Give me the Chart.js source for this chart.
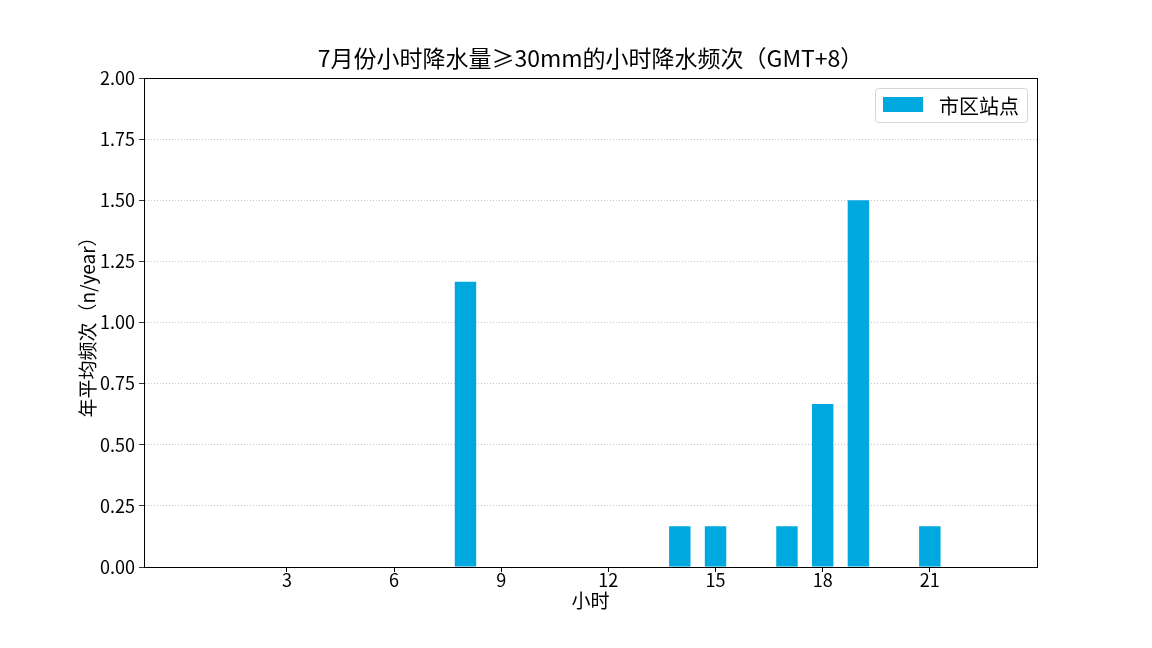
<!DOCTYPE html>
<html lang="zh-CN">
<head>
<meta charset="UTF-8">
<title>7月份小时降水频次</title>
<script src="https://cdn.jsdelivr.net/npm/chart.js"></script>
<style>
  html, body { margin: 0; padding: 0; background: #fff; }
  #wrap { width: 1152px; height: 648px; }
</style>
</head>
<body>
<div id="wrap"><canvas id="chart" width="1152" height="648"></canvas></div>
<script>
// 数据
const hours = [0,1,2,3,4,5,6,7,8,9,10,11,12,13,14,15,16,17,18,19,20,21,22,23];
const freq  = [0,0,0,0,0,0,0,0,1.1667,0,0,0,0,0,0.1667,0.1667,0,0.1667,0.6667,1.5,0,0.1667,0,0];
const xTicks = [3,6,9,12,15,18,21];
const seriesName = '市区站点';
const chartTitle = '7月份小时降水量≥30mm的小时降水频次（GMT+8）';
const barColor = '#00A8E0';
const FONT = "'Noto Sans CJK SC', 'DejaVu Sans', sans-serif";

// 标题、边框、图例（图例画在绘图区内右上角）
const framePlugin = {
  id: 'frame',
  afterDraw(chart) {
    const { ctx, chartArea: a } = chart;
    ctx.save();
    ctx.strokeStyle = '#000';
    ctx.lineWidth = 1;
    ctx.strokeRect(Math.round(a.left) + 0.5, Math.round(a.top) + 0.5,
                   Math.round(a.right - a.left), Math.round(a.bottom - a.top));

    // title, centred on the plot area
    ctx.fillStyle = '#000';
    ctx.font = '23px ' + FONT;
    ctx.textAlign = 'center';
    ctx.textBaseline = 'middle';
    ctx.fillText(chartTitle, (a.left + a.right) / 2, 58);

    // legend
    const w = 152, h = 34;
    const lx = a.right - 10 - w, ly = a.top + 10;
    ctx.beginPath();
    ctx.roundRect(lx + 0.5, ly + 0.5, w, h, 3);
    ctx.fillStyle = 'rgba(255,255,255,0.8)';
    ctx.fill();
    ctx.strokeStyle = '#d6d6d6';
    ctx.stroke();
    ctx.fillStyle = barColor;
    ctx.fillRect(lx + 8, ly + 9, 40, 15);
    ctx.fillStyle = '#000';
    ctx.font = '20px ' + FONT;
    ctx.textAlign = 'left';
    ctx.fillText(seriesName, lx + 64, ly + h / 2 + 1);
    ctx.restore();
  }
};

new Chart(document.getElementById('chart'), {
  type: 'bar',
  data: {
    datasets: [{
      label: seriesName,
      data: hours.map((h, i) => ({ x: h, y: freq[i] })),
      backgroundColor: barColor,
      borderWidth: 0,
      barPercentage: 0.6,
      categoryPercentage: 1.0
    }]
  },
  options: {
    responsive: false,
    animation: false,
    layout: { padding: { top: 78, right: 115, bottom: 0, left: 76 } },
    plugins: {
      legend: { display: false },
      tooltip: { enabled: false },
      title: { display: false }
    },
    scales: {
      x: {
        type: 'linear',
        offset: false,
        min: -1,
        max: 24,
        afterBuildTicks(scale) { scale.ticks = xTicks.map(v => ({ value: v })); },
        afterFit(scale) { scale.height = 81; },
        ticks: { color: '#000', font: { family: FONT, size: 18 }, padding: -3, maxRotation: 0 },
        grid: { offset: false, drawOnChartArea: false, tickLength: 5, tickColor: '#000' },
        border: { color: '#000', width: 1 },
        title: {
          display: true, text: '小时', color: '#000',
          font: { family: FONT, size: 19 },
          padding: { top: 0, bottom: 36 }
        }
      },
      y: {
        min: 0,
        max: 2,
        afterFit(scale) { scale.width = 68; },
        ticks: {
          stepSize: 0.25, color: '#000', padding: 4,
          font: { family: FONT, size: 18 },
          callback: v => v.toFixed(2)
        },
        grid: { color: '#b8b8b8', lineWidth: 0.8, tickLength: 5, tickColor: '#000', tickBorderDash: [] },
        border: { color: '#000', width: 1, dash: [1, 2] },
        title: {
          display: true, text: '年平均频次（n/year）', color: '#000',
          font: { family: FONT, size: 19 },
          padding: 0
        }
      }
    }
  },
  plugins: [framePlugin]
});
</script>
</body>
</html>
